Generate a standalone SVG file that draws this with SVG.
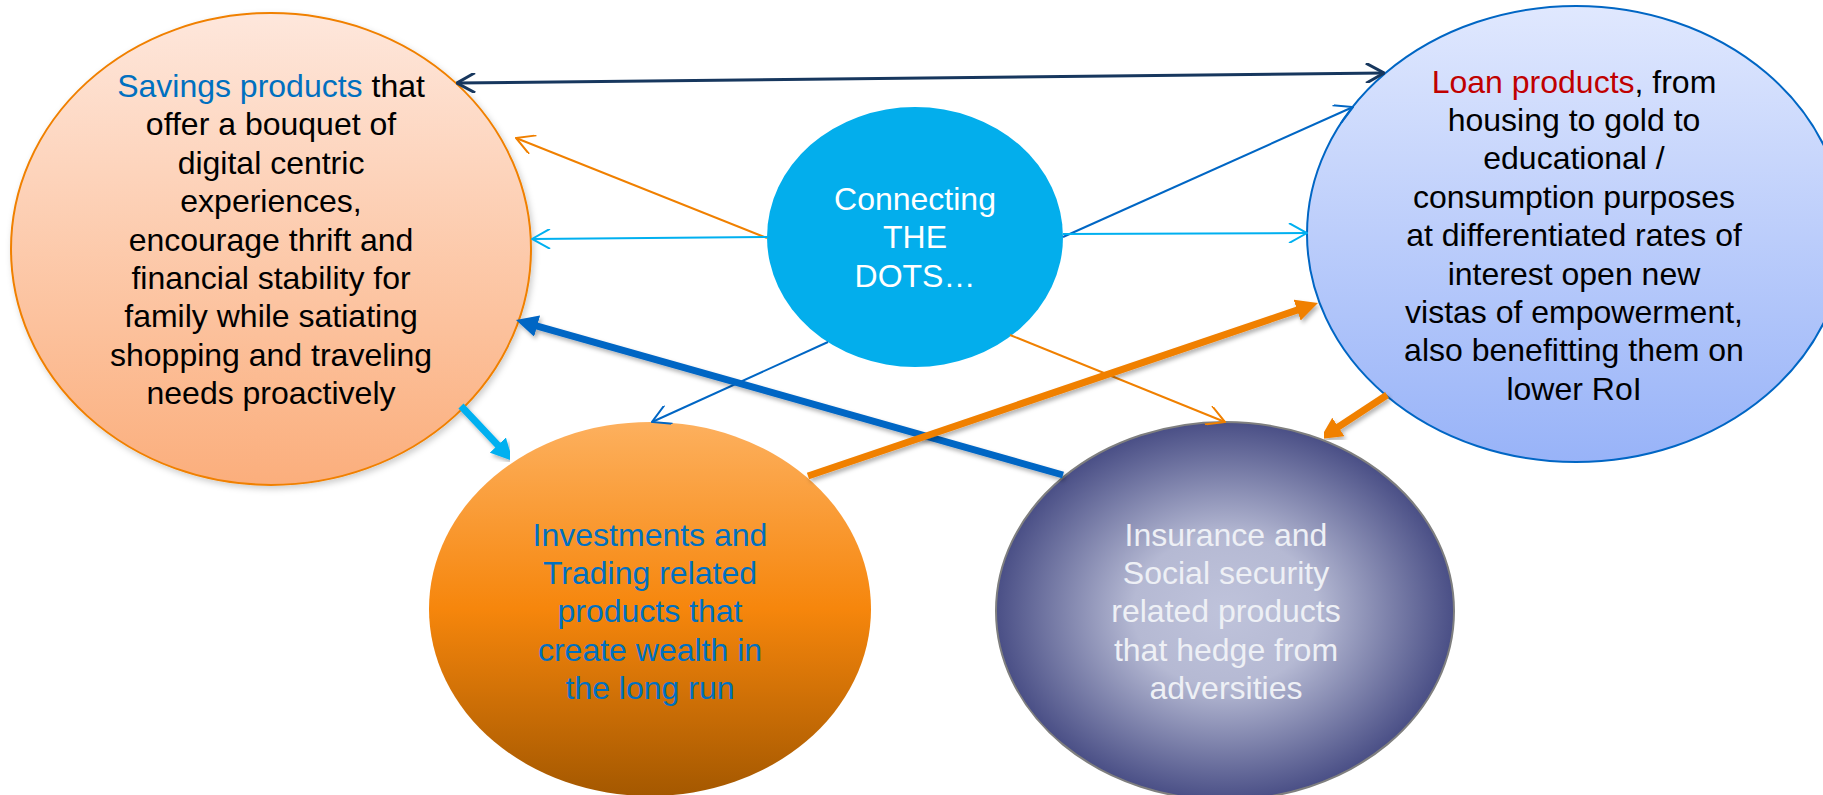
<svg xmlns="http://www.w3.org/2000/svg" width="1823" height="795" viewBox="0 0 1823 795">
  <style>
    text { font-family: "Liberation Sans", Arial, sans-serif; font-size: 32px; text-anchor: middle; }
    .dark { fill: #000000; }
    .blueText { fill: #0070C0; }
    .redText { fill: #C00000; }
    .white { fill: #FFFFFF; }
    .pale { fill: #EEF0F5; }
    .thin { fill: none; stroke-width: 2; }
    .thick { fill: none; stroke-width: 7; filter: url(#lineShadow); }
    .navy { stroke: #17375E; }
    .orange { stroke: #F08000; }
    .cyan { stroke: #00B0F0; }
    .blue { stroke: #0066C4; }
  </style>
  <defs>
    <linearGradient id="savingsFill" x1="0" y1="0" x2="0" y2="1">
      <stop offset="0" stop-color="#FEE7DC"/>
      <stop offset="1" stop-color="#FBAE7C"/>
    </linearGradient>
    <linearGradient id="loanFill" x1="0" y1="0" x2="0" y2="1">
      <stop offset="0" stop-color="#E0E8FE"/>
      <stop offset="1" stop-color="#98B3F8"/>
    </linearGradient>
    <linearGradient id="investFill" x1="0" y1="0" x2="0" y2="1">
      <stop offset="0" stop-color="#FDB05E"/>
      <stop offset="0.5" stop-color="#F6860C"/>
      <stop offset="1" stop-color="#A45800"/>
    </linearGradient>
    <radialGradient id="insureFill" cx="0.5" cy="0.5" r="0.5">
      <stop offset="0" stop-color="#BFC3DB"/>
      <stop offset="0.4" stop-color="#B5B9D3"/>
      <stop offset="1" stop-color="#4A4F86"/>
    </radialGradient>
    <filter id="lineShadow" x="-10%" y="-10%" width="120%" height="130%">
      <feDropShadow dx="2" dy="3" stdDeviation="2" flood-color="#000000" flood-opacity="0.3"/>
    </filter>
    <filter id="nodeShadow" x="-5%" y="-5%" width="112%" height="115%">
      <feDropShadow dx="2" dy="3" stdDeviation="3" flood-color="#000000" flood-opacity="0.2"/>
    </filter>
    <!-- open chevron heads for thin connectors -->
    <marker id="openNavy" viewBox="0 0 20 20" refX="19" refY="10" markerWidth="20" markerHeight="20" markerUnits="userSpaceOnUse" orient="auto-start-reverse">
      <path d="M1,0 L19,10 L1,20" fill="none" stroke="#17375E" stroke-width="3"/>
    </marker>
    <marker id="openOrange" viewBox="0 0 20 20" refX="19" refY="10" markerWidth="20" markerHeight="20" markerUnits="userSpaceOnUse" orient="auto">
      <path d="M1,0 L19,10 L1,20" fill="none" stroke="#F08000" stroke-width="2"/>
    </marker>
    <marker id="openCyan" viewBox="0 0 20 20" refX="19" refY="10" markerWidth="20" markerHeight="20" markerUnits="userSpaceOnUse" orient="auto">
      <path d="M1,0 L19,10 L1,20" fill="none" stroke="#00B0F0" stroke-width="2"/>
    </marker>
    <marker id="openBlue" viewBox="0 0 20 20" refX="19" refY="10" markerWidth="20" markerHeight="20" markerUnits="userSpaceOnUse" orient="auto">
      <path d="M1,0 L19,10 L1,20" fill="none" stroke="#0066C4" stroke-width="2"/>
    </marker>
    <!-- solid heads for thick connectors; shaft stops 12px short of the tip -->
    <marker id="solidBlue" viewBox="0 0 22 22" refX="10" refY="11" markerWidth="22" markerHeight="22" markerUnits="userSpaceOnUse" orient="auto">
      <path d="M0,0 L22,11 L0,22 z" fill="#0066C4"/>
    </marker>
    <marker id="solidOrange" viewBox="0 0 22 22" refX="10" refY="11" markerWidth="22" markerHeight="22" markerUnits="userSpaceOnUse" orient="auto">
      <path d="M0,0 L22,11 L0,22 z" fill="#F08000"/>
    </marker>
    <marker id="solidCyan" viewBox="0 0 22 22" refX="10" refY="11" markerWidth="22" markerHeight="22" markerUnits="userSpaceOnUse" orient="auto">
      <path d="M0,0 L22,11 L0,22 z" fill="#00B0F0"/>
    </marker>
  </defs>

  <rect width="1823" height="795" fill="#FFFFFF"/>

  <g id="node-savings">
    <ellipse cx="271" cy="249" rx="260" ry="236" fill="url(#savingsFill)" stroke="#F08000" stroke-width="2" filter="url(#nodeShadow)"/>
    <text x="271" y="97"><tspan class="blueText">Savings products</tspan><tspan class="dark"> that</tspan></text>
    <text class="dark" x="271" y="135.4">offer a bouquet of</text>
    <text class="dark" x="271" y="173.8">digital centric</text>
    <text class="dark" x="271" y="212.2">experiences,</text>
    <text class="dark" x="271" y="250.6">encourage thrift and</text>
    <text class="dark" x="271" y="289">financial stability for</text>
    <text class="dark" x="271" y="327.4">family while satiating</text>
    <text class="dark" x="271" y="365.8">shopping and traveling</text>
    <text class="dark" x="271" y="404.2">needs proactively</text>
  </g>

  <g id="node-loans">
    <ellipse cx="1576" cy="234" rx="269" ry="228" fill="url(#loanFill)" stroke="#0066C4" stroke-width="2"/>
    <text x="1574" y="92.5"><tspan class="redText">Loan products</tspan><tspan class="dark">, from</tspan></text>
    <text class="dark" x="1574" y="130.9">housing to gold to</text>
    <text class="dark" x="1574" y="169.3">educational /</text>
    <text class="dark" x="1574" y="207.7">consumption purposes</text>
    <text class="dark" x="1574" y="246.1">at differentiated rates of</text>
    <text class="dark" x="1574" y="284.5">interest open new</text>
    <text class="dark" x="1574" y="322.9">vistas of empowerment,</text>
    <text class="dark" x="1574" y="361.3">also benefitting them on</text>
    <text class="dark" x="1574" y="399.7">lower RoI</text>
  </g>

  <g id="node-hub">
    <ellipse cx="915" cy="237" rx="148" ry="130" fill="#03AEEC"/>
    <text class="white" x="915" y="210">Connecting</text>
    <text class="white" x="915" y="248.4">THE</text>
    <text class="white" x="915" y="286.8">DOTS…</text>
  </g>

  <g id="node-investments">
    <ellipse cx="650" cy="609" rx="221" ry="187" fill="url(#investFill)"/>
    <text class="blueText" x="650" y="545.5">Investments and</text>
    <text class="blueText" x="650" y="583.9">Trading related</text>
    <text class="blueText" x="650" y="622.3">products that</text>
    <text class="blueText" x="650" y="660.7">create wealth in</text>
    <text class="blueText" x="650" y="699.1">the long run</text>
  </g>

  <g id="node-insurance">
    <ellipse cx="1225" cy="611" rx="229" ry="189" fill="url(#insureFill)" stroke="#7F7F7F" stroke-width="2"/>
    <text class="pale" x="1226" y="545.5">Insurance and</text>
    <text class="pale" x="1226" y="583.9">Social security</text>
    <text class="pale" x="1226" y="622.3">related products</text>
    <text class="pale" x="1226" y="660.7">that hedge from</text>
    <text class="pale" x="1226" y="699.1">adversities</text>
  </g>

  <g id="connectors">
    <!-- thin links radiating from the hub -->
    <line class="thin orange" x1="767" y1="238" x2="516" y2="138" marker-end="url(#openOrange)"/>
    <line class="thin cyan" x1="767" y1="237" x2="532" y2="239" marker-end="url(#openCyan)"/>
    <line class="thin blue" x1="1063" y1="237" x2="1353" y2="107" marker-end="url(#openBlue)"/>
    <line class="thin cyan" x1="1063" y1="234" x2="1307" y2="233" marker-end="url(#openCyan)"/>
    <line class="thin blue" x1="828" y1="342" x2="652" y2="422" marker-end="url(#openBlue)"/>
    <line class="thin orange" x1="1010" y1="335" x2="1225" y2="422" marker-end="url(#openOrange)"/>
    <!-- savings <-> loans -->
    <line class="navy" fill="none" stroke-width="3" x1="457" y1="83" x2="1384" y2="73" marker-start="url(#openNavy)" marker-end="url(#openNavy)"/>
    <!-- thick links between product groups -->
    <line class="thick blue" x1="1063" y1="475" x2="527.5" y2="323.3" marker-end="url(#solidBlue)"/>
    <line class="thick orange" x1="808" y1="476" x2="1306.6" y2="306.9" marker-end="url(#solidOrange)"/>
    <line class="thick cyan" x1="461" y1="406" x2="504.7" y2="452.3" marker-end="url(#solidCyan)"/>
    <line class="thick orange" x1="1387" y1="395" x2="1330" y2="432.4" marker-end="url(#solidOrange)"/>
  </g>
</svg>
